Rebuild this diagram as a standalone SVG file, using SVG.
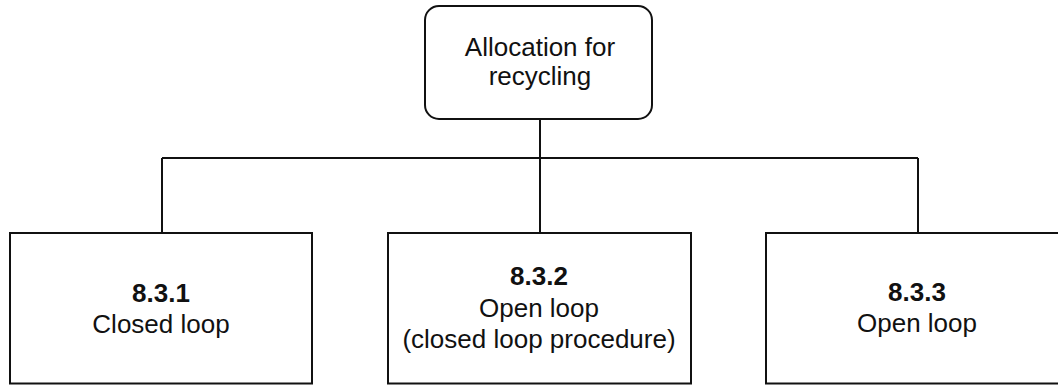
<svg xmlns="http://www.w3.org/2000/svg" width="1058" height="385" viewBox="0 0 1058 385">
<style>
.box{fill:#fff;stroke:#111;stroke-width:2}
.conn{fill:none;stroke:#111;stroke-width:2}
text{font-family:"Liberation Sans",Arial,sans-serif;font-size:26px;fill:#111;text-anchor:middle}
.b{font-weight:bold}
</style>
<rect width="1058" height="385" fill="#fff"/>
<g id="connectors">
<path class="conn" d="M540 119V158M162 158H918M162 158V233M540 158V233M918 158V233"/>
</g>
<g id="allocation">
<rect class="box" x="425" y="6" width="227" height="113" rx="14" ry="14"/>
<text x="540" y="56">Allocation for</text>
<text x="540" y="85">recycling</text>
</g>
<g id="n831">
<rect class="box" x="10" y="233" width="302" height="150.5"/>
<text class="b" x="161" y="302">8.3.1</text>
<text x="161" y="333">Closed loop</text>
</g>
<g id="n832">
<rect class="box" x="388" y="233" width="303" height="150.5"/>
<text class="b" x="539" y="285">8.3.2</text>
<text x="539" y="317">Open loop</text>
<text x="539" y="348">(closed loop procedure)</text>
</g>
<g id="n833">
<rect class="box" x="766" y="233" width="304" height="150.5"/>
<text class="b" x="917" y="301">8.3.3</text>
<text x="917" y="332">Open loop</text>
</g>
</svg>
